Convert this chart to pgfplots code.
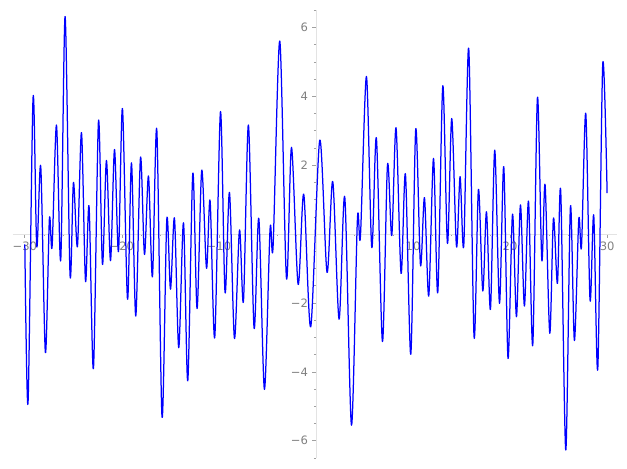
\documentclass[border=0pt]{standalone}
\usepackage{pgfplots}
\pgfplotsset{compat=1.18}
\usepackage{fontspec}
\setmainfont{DejaVu Sans}
\definecolor{axgray}{HTML}{E3E3E3}
\definecolor{tickgray}{HTML}{A0A0A0}
\definecolor{labgray}{HTML}{808080}
\definecolor{pureblue}{RGB}{0,0,255}
\begin{document}
\begin{tikzpicture}[x=1bp,y=1bp]
\begin{axis}[
  at={(0bp,0bp)}, anchor=south west,
  scale only axis, width=604.6bp, height=448.3bp,
  xmin=-31.25, xmax=31.05, ymin=-6.51, ymax=6.51,
  axis lines=middle,
  axis line style={-, draw=axgray, line width=0.9bp},
  tick align=outside,
  major tick length=3.5bp, minor tick length=2bp,
  every tick/.style={draw=tickgray, line width=0.7bp},
  xtick={-30,-20,-10,10,20,30},
  xticklabels={−30,−20,−10,10,20,30},
  ytick={-6,-4,-2,2,4,6},
  yticklabels={−6,−4,−2,2,4,6},
  minor xtick={-30,-28,...,30},
  minor ytick={-6.5,-6,...,6.5},
  ticklabel style={text=labgray, font=\fontsize{11.6}{13}\selectfont},
  xticklabel style={yshift=-1bp},
  yticklabel style={xshift=-1bp},
  clip=false,
]
\addplot[draw=pureblue, line width=1.25bp, line join=round, smooth, tension=0.5] coordinates {
(-30,-0.3) (-29.67,-4.90) (-29.15,3.97) (-28.77,-0.36) (-28.36,1.96) (-27.88,-3.44)
(-27.47,0.43) (-27.19,-0.36) (-26.74,3.17) (-26.30,-0.75) (-25.85,6.32) (-25.34,-1.19)
(-24.99,1.50) (-24.58,-0.36) (-24.16,2.95) (-23.75,-1.36) (-23.38,0.80) (-22.93,-3.90)
(-22.41,3.29) (-22.00,-0.88) (-21.59,2.14) (-21.17,-0.77) (-20.76,2.46) (-20.35,-0.51)
(-19.94,3.65) (-19.42,-1.89) (-19.01,2.07) (-18.57,-2.38) (-18.08,2.23) (-17.67,-0.59)
(-17.26,1.69) (-16.85,-1.24) (-16.40,3.03) (-15.86,-5.32) (-15.37,0.43) (-14.99,-1.60)
(-14.58,0.46) (-14.14,-3.30) (-13.65,0.33) (-13.21,-4.26) (-12.69,1.77) (-12.25,-2.16)
(-11.77,1.86) (-11.28,-0.99) (-10.91,0.97) (-10.43,-3.00) (-9.84,3.56) (-9.37,-1.69)
(-8.91,1.21) (-8.40,-3.03) (-7.88,0.12) (-7.47,-1.94) (-6.96,3.17) (-6.38,-2.72)
(-5.89,0.46) (-5.31,-4.51) (-4.73,0.15) (-4.42,-0.36) (-3.73,5.61) (-3.04,-1.28)
(-2.52,2.52) (-1.84,-1.46) (-1.26,1.16) (-0.54,-2.69) (0.39,2.73) (1.14,-1.11)
(1.73,1.53) (2.38,-2.47) (2.97,1.07) (3.66,-5.55) (4.27,0.43) (4.58,-0.07)
(5.20,4.58) (5.75,-0.39) (6.23,2.78) (6.85,-3.12) (7.37,2.01) (7.81,-0.04)
(8.25,3.09) (8.77,-1.14) (9.22,1.74) (9.77,-3.49) (10.28,3.05) (10.77,-0.90)
(11.18,1.06) (11.62,-1.80) (12.11,2.20) (12.55,-1.70) (13.07,4.31) (13.55,-0.27)
(13.99,3.36) (14.48,-0.36) (14.85,1.67) (15.23,-0.33) (15.74,5.40) (16.29,-2.98)
(16.74,1.30) (17.19,-1.65) (17.57,0.65) (17.98,-2.18) (18.42,2.44) (18.91,-2.01)
(19.35,1.96) (19.79,-3.61) (20.25,0.58) (20.66,-2.40) (21.07,0.85) (21.48,-2.09)
(21.90,0.96) (22.34,-3.22) (22.82,3.97) (23.27,-0.75) (23.61,1.43) (24.09,-2.88)
(24.47,0.46) (24.88,-1.43) (25.22,1.25) (25.74,-6.27) (26.22,0.80) (26.63,-3.09)
(27.08,0.43) (27.36,-0.36) (27.80,3.51) (28.24,-1.91) (28.62,0.55) (29.04,-3.90)
(29.55,4.94) (30.00,1.19)
};
\end{axis}
\path[use as bounding box] (-12.7bp,-10bp) rectangle (614.3bp,458.3bp);
\end{tikzpicture}
\end{document}
